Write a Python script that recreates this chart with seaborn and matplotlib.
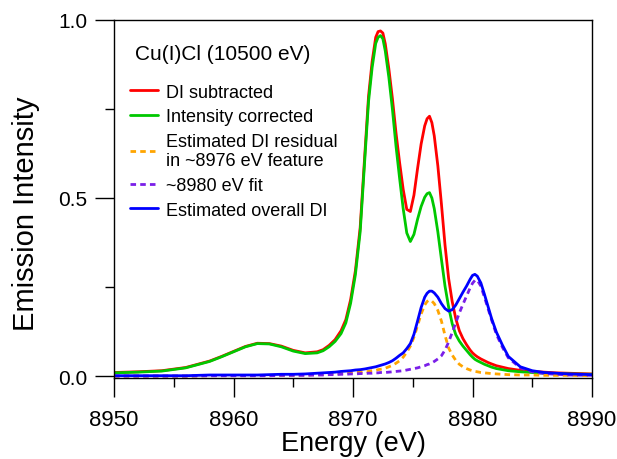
import matplotlib
matplotlib.use("Agg")
import matplotlib.pyplot as plt
import numpy as np
import pandas as pd
import seaborn as sns
from matplotlib.ticker import MultipleLocator, FormatStrFormatter

# ---------------- data ----------------
energy = [8950, 8952, 8954, 8956, 8958, 8959, 8960, 8961, 8962, 8963, 8964, 8965,
          8966, 8967, 8967.5, 8968, 8968.5,
          8969, 8969.4, 8969.8, 8970.2, 8970.6, 8971.0, 8971.3, 8971.6, 8971.9, 8972.1,
          8972.3, 8972.5, 8972.7, 8973.0, 8973.3, 8973.6, 8973.9, 8974.2, 8974.5, 8974.8,
          8975.1, 8975.4, 8975.7, 8976.0, 8976.2, 8976.4, 8976.6, 8976.8, 8977.1, 8977.4,
          8977.7, 8978.0, 8978.3, 8978.6, 8978.9, 8979.2, 8979.5, 8979.8, 8980.0, 8980.2,
          8980.4, 8980.7, 8981.0, 8981.3, 8981.6, 8982.0, 8982.5, 8983.0,
          8984, 8985, 8986, 8987, 8988, 8990]

di_subtracted = [0.011, 0.013, 0.016, 0.025, 0.043, 0.056, 0.070, 0.084, 0.093, 0.092,
                 0.085, 0.073, 0.066, 0.069, 0.075, 0.087, 0.103,
                 0.128, 0.159, 0.215, 0.296, 0.417, 0.628, 0.785, 0.882, 0.950, 0.966,
                 0.968, 0.962, 0.932, 0.862, 0.778, 0.682, 0.599, 0.524, 0.468, 0.462,
                 0.508, 0.582, 0.651, 0.702, 0.722, 0.729, 0.711, 0.674, 0.590, 0.483,
                 0.368, 0.275, 0.210, 0.162, 0.128, 0.106, 0.089, 0.074, 0.066, 0.060,
                 0.055, 0.049, 0.044, 0.039, 0.035, 0.030, 0.026, 0.022,
                 0.017, 0.014, 0.012, 0.010, 0.009, 0.007]

intensity_corrected = [0.010, 0.012, 0.015, 0.024, 0.042, 0.055, 0.069, 0.083, 0.092, 0.091,
                       0.083, 0.071, 0.064, 0.066, 0.072, 0.083, 0.098,
                       0.120, 0.150, 0.205, 0.285, 0.405, 0.615, 0.770, 0.865, 0.933, 0.950,
                       0.955, 0.946, 0.912, 0.838, 0.748, 0.645, 0.555, 0.470, 0.402, 0.378,
                       0.398, 0.440, 0.476, 0.502, 0.512, 0.515, 0.500, 0.470, 0.405, 0.328,
                       0.253, 0.195, 0.148, 0.117, 0.099, 0.085, 0.073, 0.061, 0.054, 0.048,
                       0.044, 0.039, 0.034, 0.030, 0.026, 0.022, 0.019, 0.016,
                       0.013, 0.011, 0.009, 0.008, 0.007, 0.006]

di_residual = [0.001, 0.001, 0.001, 0.001, 0.002, 0.002, 0.002, 0.002, 0.002, 0.003,
               0.003, 0.003, 0.004, 0.005, 0.005, 0.006, 0.007,
               0.008, 0.009, 0.010, 0.011, 0.012, 0.013, 0.014, 0.016, 0.017, 0.019,
               0.020, 0.021, 0.023, 0.027, 0.031, 0.037, 0.044, 0.054, 0.068, 0.085,
               0.110, 0.142, 0.175, 0.200, 0.210, 0.214, 0.211, 0.204, 0.185, 0.155,
               0.115, 0.080, 0.060, 0.045, 0.034, 0.027, 0.022, 0.018, 0.016, 0.014,
               0.013, 0.011, 0.010, 0.009, 0.008, 0.007, 0.006, 0.005,
               0.004, 0.004, 0.003, 0.003, 0.003, 0.002]

fit_8980 = [0.001, 0.001, 0.001, 0.001, 0.002, 0.002, 0.002, 0.002, 0.002, 0.002,
            0.003, 0.003, 0.003, 0.004, 0.004, 0.005, 0.005,
            0.006, 0.006, 0.007, 0.007, 0.008, 0.008, 0.009, 0.009, 0.010, 0.010,
            0.011, 0.011, 0.011, 0.012, 0.013, 0.014, 0.015, 0.016, 0.018, 0.020,
            0.022, 0.024, 0.027, 0.030, 0.033, 0.035, 0.038, 0.042, 0.049, 0.058,
            0.074, 0.096, 0.123, 0.150, 0.178, 0.202, 0.225, 0.248, 0.261, 0.269,
            0.270, 0.253, 0.222, 0.190, 0.158, 0.118, 0.082, 0.052,
            0.024, 0.013, 0.008, 0.006, 0.004, 0.003]

overall_di = [0.002, 0.002, 0.002, 0.002, 0.004, 0.004, 0.004, 0.004, 0.004, 0.005,
              0.006, 0.006, 0.007, 0.009, 0.010, 0.011, 0.012,
              0.014, 0.015, 0.016, 0.018, 0.019, 0.021, 0.023, 0.025, 0.027, 0.029,
              0.031, 0.033, 0.035, 0.039, 0.044, 0.051, 0.059, 0.066, 0.078, 0.092,
              0.118, 0.155, 0.193, 0.222, 0.233, 0.239, 0.239, 0.234, 0.222, 0.204,
              0.190, 0.183, 0.187, 0.200, 0.218, 0.236, 0.253, 0.272, 0.283, 0.286,
              0.281, 0.262, 0.230, 0.196, 0.162, 0.124, 0.088, 0.056,
              0.027, 0.016, 0.011, 0.009, 0.007, 0.005]

series_labels = ["DI subtracted", "Intensity corrected",
                 "Estimated DI residual\nin ~8976 eV feature",
                 "~8980 eV fit", "Estimated overall DI"]
series_values = [di_subtracted, intensity_corrected, di_residual, fit_8980, overall_di]
series_colors = ["#FF0000", "#00C800", "#FFA500", "#7A1FE8", "#0000FF"]
series_dashed = [False, False, True, True, False]

x_ticks = [8950, 8960, 8970, 8980, 8990]
y_ticks = [0.0, 0.5, 1.0]
title_text = "Cu(I)Cl (10500 eV)"

# ---------------- plotting ----------------
sns.set_theme(style="ticks")
plt.rcParams["font.family"] = ["Liberation Sans", "DejaVu Sans"]

W, H = 617, 460
fig = plt.figure(figsize=(W / 100, H / 100), dpi=100)
ax_l, ax_r, ax_t, ax_b = 114, 592, 20.5, 378.5
ax = fig.add_axes([ax_l / W, (H - ax_b) / H, (ax_r - ax_l) / W, (ax_b - ax_t) / H])

df = pd.DataFrame({"Energy": energy})
for lab, vals in zip(series_labels, series_values):
    df[lab] = vals

for lab, col, dashed in zip(series_labels, series_colors, series_dashed):
    sns.lineplot(data=df, x="Energy", y=lab, ax=ax, color=col, label=lab,
                 linewidth=2.0, linestyle=(0, (2.0, 1.5)) if dashed else "-",
                 estimator=None, sort=False)

ax.set_xlim(8950, 8990)
ax.set_ylim(-0.003, 1.0)
ax.set_xticks(x_ticks)
ax.set_yticks(y_ticks)
ax.xaxis.set_minor_locator(MultipleLocator(5))
ax.yaxis.set_minor_locator(MultipleLocator(0.25))
ax.yaxis.set_major_formatter(FormatStrFormatter("%.1f"))

for sp in ax.spines.values():
    sp.set_visible(True)
    sp.set_color("black")
    sp.set_linewidth(1.0)

ax.tick_params(which="major", direction="out", length=14, width=1.0,
               colors="black", top=False, right=False)
ax.tick_params(which="minor", direction="out", length=6.5, width=1.0,
               colors="black", top=False, right=False)
ax.tick_params(axis="x", which="major", labelsize=16, pad=9)
ax.tick_params(axis="y", which="major", labelsize=15, pad=5)

ax.set_xlabel("Energy (eV)", fontsize=19.5, color="black")
ax.set_ylabel("Emission Intensity", fontsize=21, color="black")
ax.xaxis.set_label_coords(0.5, -0.147)
ax.yaxis.set_label_coords(-0.155, 0.46)

ax.text(0.044, 0.905, title_text, transform=ax.transAxes, fontsize=15,
        ha="left", va="center", color="black")

leg = ax.legend(loc="upper left", bbox_to_anchor=(0.033, 0.821), frameon=False,
                fontsize=13, handlelength=1.55, handletextpad=0.45,
                labelspacing=0.42, borderpad=0, borderaxespad=0)
for txt in leg.get_texts():
    txt.set_color("black")

fig.savefig("out.png", dpi=100)
